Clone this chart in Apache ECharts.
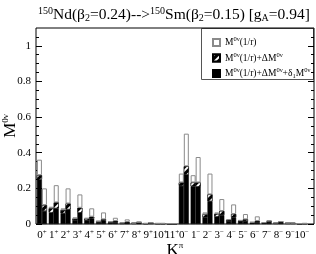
<!DOCTYPE html>
<html>
<head>
<meta charset="utf-8">
<script src="https://cdn.jsdelivr.net/npm/echarts@6/dist/echarts.min.js"></script>
<style>html,body{margin:0;padding:0;background:#fff}#c{width:316px;height:254px}</style>
</head>
<body>
<div id="c"></div>
<script>
// K^pi categories
const categories = ['0+','1+','2+','3+','4+','5+','6+','7+','8+','9+','10+','11+','0-','1-','2-','3-','4-','5-','6-','7-','8-','9-','10-'];
// first bar of each pair
const openA  = [0.361,0.097,0.088,0.037,0.034,0.017,0.015,0.008,0.006,0.004,0.004,0.003,0.283,0.274,0.065,0.065,0.028,0.022,0.011,0.009,0.007,0.006,0.003];
const hatchA = [0.274,0.088,0.078,0.030,0.030,0.015,0.011,0.006,0.005,0.003,0.003,0.002,0.233,0.233,0.054,0.056,0.022,0.018,0.009,0.007,0.006,0.005,0.002];
const blackA = [0.250,0.063,0.060,0.022,0.022,0.011,0.008,0.004,0.004,0.002,0.002,0.001,0.214,0.212,0.037,0.041,0.017,0.015,0.007,0.005,0.004,0.004,0.001];
// second bar of each pair
const openB  = [0.200,0.218,0.200,0.166,0.088,0.065,0.035,0.026,0.011,0.008,0.004,0.003,0.507,0.376,0.283,0.140,0.110,0.056,0.043,0.019,0.015,0.006,0.004];
const hatchB = [0.106,0.121,0.115,0.091,0.041,0.026,0.017,0.011,0.010,0.006,0.003,0.002,0.324,0.233,0.166,0.073,0.056,0.026,0.017,0.017,0.013,0.005,0.003];
const blackB = [0.073,0.088,0.082,0.063,0.030,0.019,0.011,0.007,0.008,0.005,0.002,0.001,0.277,0.209,0.128,0.050,0.037,0.017,0.011,0.012,0.010,0.004,0.002];
// y tick values
const yMajor = [0, 0.2, 0.4, 0.6, 0.8, 1];
const yMinor = [0.05,0.1,0.15,0.25,0.3,0.35,0.45,0.5,0.55,0.65,0.7,0.75,0.85,0.9,0.95,1.05];

const FONT = '"Liberation Serif", "DejaVu Serif", serif';

function diff(a,b){ return a.map((v,i)=>Math.max(0, +(v - b[i]).toFixed(4))); }

const decal = { symbol:'rect', symbolSize:1, color:'#fff', dashArrayX:[1,0], dashArrayY:[1.2,2.2], rotation: -Math.PI/4 };

function mk(stack, name, data, style){
  return { type:'bar', name, stack, data, barWidth:5, barGap:'0%', xAxisIndex:0, yAxisIndex:0,
    itemStyle: style, emphasis:{disabled:true}, animation:false };
}
const stBlack = { color:'#000', borderColor:'#000', borderWidth:0.5 };
const stHatch = { color:'#000', borderColor:'#000', borderWidth:0.5, decal };
const stOpen  = { color:'#fff', borderColor:'#8a8a8a', borderWidth:1 };

const series = [
  mk('A','black', blackA, stBlack),
  mk('A','hatch', diff(hatchA, blackA), stHatch),
  mk('A','open',  diff(openA, hatchA), stOpen),
  mk('B','black', blackB, stBlack),
  mk('B','hatch', diff(hatchB, blackB), stHatch),
  mk('B','open',  diff(openB, hatchB), stOpen)
];

const rich = {
  m:{fontFamily:FONT, fontSize:9.5, color:'#000'},
  s:{fontFamily:FONT, fontSize:6.5, color:'#000', padding:[0,0,6,0]},
  b:{fontFamily:FONT, fontSize:6.5, color:'#000', padding:[5,0,0,0]}
};
const legendText = {
  open:  '{m|M}{s|0ν}{m|(1/r)}',
  hatch: '{m|M}{s|0ν}{m|(1/r)+ΔM}{s|0ν}',
  black: '{m|M}{s|0ν}{m|(1/r)+ΔM}{s|0ν}{m|+δ}{b|1}{m|M}{s|0ν}'
};

function yAx(grid, pos, ticks, len, labels){
  return { type:'value', gridIndex:grid, position:pos, min:0, max:1.1, splitLine:{show:false},
    axisLine:{show:false},
    axisTick:{show:grid===1, inside:true, length:len, customValues:ticks, lineStyle:{color:'#000'}},
    axisLabel:{show:labels, customValues:yMajor, fontFamily:FONT, fontSize:11, color:'#000', margin:5},
    name: labels ? '{m|M}{s|0ν}' : '', nameLocation:'middle', nameGap:16, nameRotate:90, nameMoveOverlap:false,
    nameTextStyle:{ rich:{ m:{fontFamily:FONT, fontSize:17, color:'#000'}, s:{fontFamily:FONT, fontSize:9, color:'#000', padding:[0,0,10,0]} } }
  };
}

const option = {
  animation:false,
  backgroundColor:'#fff',
  title:{
    text:'{s|150}{n|Nd(β}{b|2}{n|=0.24)-->}{s|150}{n|Sm(β}{b|2}{n|=0.15) [g}{b|A}{n|=0.94]}',
    left:33, top:1,
    textStyle:{ fontWeight:'normal', rich:{
      n:{fontFamily:FONT, fontSize:15.5, fontWeight:'normal', color:'#000'},
      s:{fontFamily:FONT, fontSize:10, fontWeight:'normal', color:'#000', padding:[0,0,8,0]},
      b:{fontFamily:FONT, fontSize:10, fontWeight:'normal', color:'#000', padding:[7,0,0,0]}
    }}
  },
  grid:[
    { left:36, right:8, top:28, bottom:30, show:false, outerBoundsMode:'none', containLabel:false },
    { left:36, right:2, top:28, bottom:30, show:true, borderColor:'#000', borderWidth:1, outerBoundsMode:'none', containLabel:false }
  ],
  legend:{
    data:['open','hatch','black'],
    orient:'vertical', left:207, top:31, itemWidth:7, itemHeight:7, itemGap:4,
    selectedMode:false,
    icon:'rect',
    formatter:(n)=>legendText[n],
    textStyle:{ rich }
  },
  graphic:[{ type:'rect', shape:{x:201.5, y:28.5, width:112, height:51}, style:{fill:'#fff', stroke:'#555', lineWidth:1}, z:-1, zlevel:0 }],
  xAxis:[{
    type:'category', gridIndex:0, data:categories, boundaryGap:true,
    splitLine:{show:false}, axisLine:{show:false}, axisTick:{show:false},
    axisLabel:{ interval:0, margin:5,
      formatter:(c)=>{ const sign = c.slice(-1); return '{m|'+c.slice(0,-1)+'}{s|'+(sign==='+'?'+':'−')+'}'; },
      rich:{ m:{fontFamily:FONT, fontSize:11, color:'#000'}, s:{fontFamily:FONT, fontSize:7, color:'#000', padding:[0,0,6,0]} } }
  },{
    type:'value', gridIndex:1, min:0, max:1, show:true,
    axisLine:{show:false}, axisTick:{show:false}, axisLabel:{show:false}, splitLine:{show:false},
    name:'{m|K}{s|π}', nameLocation:'middle', nameGap:17, nameMoveOverlap:false,
    nameTextStyle:{ rich:{ m:{fontFamily:FONT, fontSize:17, color:'#000'}, s:{fontFamily:FONT, fontSize:9, color:'#000', padding:[0,0,10,0]} } }
  }],
  yAxis:[
    yAx(0, 'left', yMajor, 6, false),
    yAx(1, 'left', yMajor, 6, true),
    yAx(1, 'left', yMinor, 3, false),
    yAx(1, 'right', yMajor, 6, false),
    yAx(1, 'right', yMinor, 3, false)
  ],
  series
};
const chart = echarts.init(document.getElementById('c'), null, {renderer:'canvas'});
chart.setOption(option);
</script>
</body>
</html>
